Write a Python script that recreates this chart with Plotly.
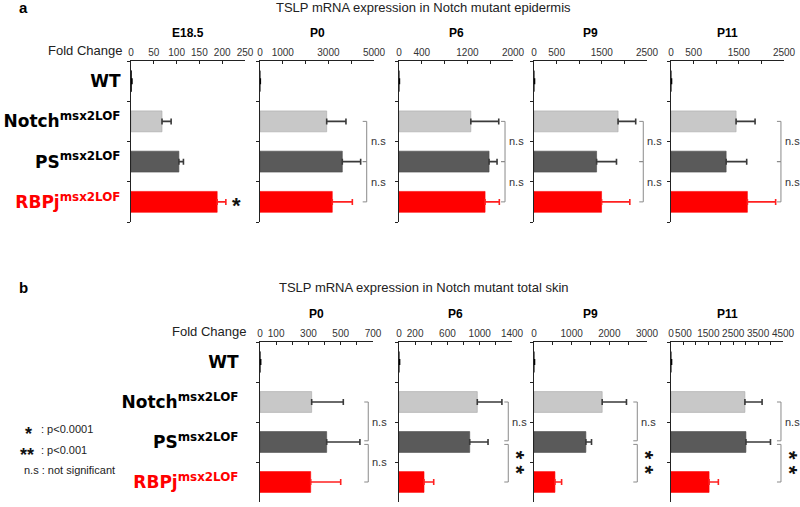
import plotly.graph_objects as go

# ---------------- data ----------------
genotypes = ["WT", "Notch", "PS", "RBPj"]
genotype_ticktext = [
    "WT",
    "Notch<sup>msx2LOF</sup>",
    "PS<sup>msx2LOF</sup>",
    "<span style='color:#ff0000'>RBPj<sup>msx2LOF</sup></span>",
]

# panel a : epidermis
a_stages = ["E18.5", "P0", "P6", "P9", "P11"]
a_wt = [1, 1, 1, 1, 1]
a_wt_err = [1, 12, 6, 10, 10]
a_notch = [68, 2925, 1260, 1860, 1440]
a_notch_err = [20, 845, 490, 390, 420]
a_ps = [105, 3610, 1580, 1385, 1220]
a_ps_err = [10, 805, 140, 440, 455]
a_rbpj = [189, 3170, 1510, 1495, 1690]
a_rbpj_err = [19, 880, 250, 625, 625]
a_axis_max = [250, 5000, 2000, 2500, 2500]
a_tick_step = [50, 1000, 400, 500, 500]
a_tick_labels = [
    ["0", "50", "100", "150", "200", "250"],
    ["0", "1000", "", "3000", "", "5000"],
    ["0", "400", "", "1200", "", "2000"],
    ["0", "500", "", "1500", "", "2500"],
    ["0", "500", "", "1500", "", "2500"],
]
a_sig_notch_ps = ["", "n.s", "n.s", "n.s", "n.s"]
a_sig_ps_rbpj = ["", "n.s", "n.s", "n.s", "n.s"]
a_sig_rbpj_wt = ["*", "", "", "", ""]

# panel b : total skin
b_stages = ["P0", "P6", "P9", "P11"]
b_wt = [1, 1, 1, 1]
b_wt_err = [3, 6, 12, 20]
b_notch = [320, 970, 1810, 2970]
b_notch_err = [196, 305, 645, 690]
b_ps = [413, 876, 1377, 3010]
b_ps_err = [206, 227, 150, 987]
b_rbpj = [314, 310, 556, 1530]
b_rbpj_err = [186, 120, 177, 373]
b_axis_max = [700, 1400, 3000, 4500]
b_tick_step = [100, 200, 500, 500]
b_tick_labels = [
    ["0", "100", "", "300", "", "500", "", "700"],
    ["0", "200", "", "600", "", "1000", "", "1400"],
    ["0", "", "1000", "", "2000", "", "3000"],
    ["0", "500", "", "1500", "", "2500", "", "3500", "", "4500"],
]
b_sig_notch_ps = ["n.s", "n.s", "n.s", "n.s"]
b_sig_ps_rbpj = ["n.s", "**", "**", "**"]

# ---------------- style / layout constants ----------------
W, H = 800, 507
BAR_COLORS = ["#000000", "#c8c8c8", "#5a5a5a", "#ff0000"]
BAR_LINES = ["#000000", "#a8a8a8", "#4a4a4a", "#ff0000"]
ERR_COLORS = ["#000000", "#3a3a3a", "#3a3a3a", "#ff2020"]

a_xpx = [(131, 245), (260, 374), (399, 513), (534, 647), (671, 784)]
b_xpx = [(260, 373), (399, 512), (534, 647), (671, 783)]
a_ypx = (61, 222)
b_ypx = (342, 502)
a_bracket = [None, 0.936, 0.93, 0.967, 0.973]
b_bracket = [0.958, 0.967, 0.914, 0.982]

FONT = "Liberation Sans, Arial, sans-serif"
LABEL_FONT = "DejaVu Sans, Liberation Sans, sans-serif"


def px_x(p):
    return p / W


def px_y(p):
    return 1 - p / H


fig = go.Figure()
layout = dict(
    width=W, height=H,
    margin=dict(l=0, r=0, t=0, b=0, autoexpand=False),
    paper_bgcolor="white", plot_bgcolor="white",
    showlegend=False, barmode="overlay",
    font=dict(family=FONT, size=10, color="#222"),
)
annotations = []
shapes = []

panels = [
    dict(stages=a_stages, series=[(a_wt, a_wt_err), (a_notch, a_notch_err), (a_ps, a_ps_err), (a_rbpj, a_rbpj_err)],
         maxv=a_axis_max, step=a_tick_step, labels=a_tick_labels, xpx=a_xpx, ypx=a_ypx,
         sig1=a_sig_notch_ps, sig2=a_sig_ps_rbpj, bracket=a_bracket, joined=True, standoff=6),
    dict(stages=b_stages, series=[(b_wt, b_wt_err), (b_notch, b_notch_err), (b_ps, b_ps_err), (b_rbpj, b_rbpj_err)],
         maxv=b_axis_max, step=b_tick_step, labels=b_tick_labels, xpx=b_xpx, ypx=b_ypx,
         sig1=b_sig_notch_ps, sig2=b_sig_ps_rbpj, bracket=b_bracket, joined=False, standoff=17),
]

k = 0
for pi, P in enumerate(panels):
    for j, stage in enumerate(P["stages"]):
        k += 1
        xa = "x" if k == 1 else f"x{k}"
        ya = "y" if k == 1 else f"y{k}"
        xkey = "xaxis" if k == 1 else f"xaxis{k}"
        ykey = "yaxis" if k == 1 else f"yaxis{k}"
        for g, (vals, errs) in enumerate(P["series"]):
            fig.add_trace(go.Bar(
                x=[vals[j]], y=[genotypes[g]], orientation="h",
                xaxis=xa, yaxis=ya, width=0.52,
                marker=dict(color=BAR_COLORS[g], line=dict(color=BAR_LINES[g], width=0.6)),
                error_x=dict(type="data", array=[errs[j]], arrayminus=[0], symmetric=False,
                             color=ERR_COLORS[g], thickness=1.6, width=3),
            ))
        mx = P["maxv"][j]
        st = P["step"][j]
        tickvals = [st * i for i in range(int(round(mx / st)) + 1)]
        x0, x1 = P["xpx"][j]
        y0, y1 = P["ypx"]
        layout[xkey] = dict(
            domain=[px_x(x0), px_x(x1)], anchor=ya, side="top",
            range=[0, mx], tickmode="array", tickvals=tickvals, ticktext=P["labels"][j],
            ticks="inside", ticklen=3, tickcolor="#222", tickwidth=1,
            showline=True, linecolor="#222", linewidth=1.2,
            showgrid=False, zeroline=False, automargin=False, tickangle=0,
            tickfont=dict(family=FONT, size=10, color="#333"),
        )
        first = (j == 0)
        layout[ykey] = dict(
            domain=[px_y(y1), px_y(y0)], anchor=xa,
            type="category", categoryorder="array", categoryarray=genotypes,
            range=[3.5, -0.5], tickmode="array", tickvals=genotypes, ticktext=genotype_ticktext,
            ticks="outside", tickson="boundaries", ticklen=3, tickcolor="#222",
            showline=True, linecolor="#222", linewidth=1.2,
            showgrid=False, zeroline=False, automargin=False,
            showticklabels=first, ticklabelstandoff=P["standoff"],
            tickfont=dict(family=LABEL_FONT, size=17, color="#000", weight="bold"),
        )
        # stage title
        annotations.append(dict(
            text=f"<b>{stage}</b>", xref=f"{xa} domain", x=0.5, yref="paper",
            y=px_y(y0 - 28), showarrow=False, yanchor="middle",
            font=dict(family=FONT, size=12, color="#000")))

        # significance brackets
        bf = P["bracket"][j]
        if bf is not None:
            arm = 4 / (x1 - x0)
            if P["joined"]:
                segs = [(1, 2), (2, 3)]
            else:
                segs = [(1, 1.97), (2.06, 3.0)]
            for (s0, s1) in segs:
                line = dict(color="#8a8a8a", width=1)
                shapes.append(dict(type="line", xref=f"{xa} domain", yref=ya, x0=bf, x1=bf, y0=s0, y1=s1, line=line))
                shapes.append(dict(type="line", xref=f"{xa} domain", yref=ya, x0=bf - arm, x1=bf, y0=s0, y1=s0, line=line))
                shapes.append(dict(type="line", xref=f"{xa} domain", yref=ya, x0=bf - arm, x1=bf, y0=s1, y1=s1, line=line))
            for txt, yy in ((P["sig1"][j], 1.5), (P["sig2"][j], 2.5)):
                if txt == "n.s":
                    annotations.append(dict(
                        text="n.s", xref=f"{xa} domain", x=bf, xanchor="left", xshift=2,
                        yref=ya, y=yy, yanchor="middle", showarrow=False,
                        font=dict(family=FONT, size=11, color="#333")))
                elif txt == "**":
                    annotations.append(dict(
                        text="<b>* *</b>", textangle=90, xref=f"{xa} domain", x=bf, xanchor="center", xshift=9,
                        yref=ya, y=yy, yanchor="middle", yshift=-1, showarrow=False,
                        font=dict(family=FONT, size=22, color="#111")))
        if pi == 0 and a_sig_rbpj_wt[j] == "*":
            annotations.append(dict(
                text="<b>*</b>", xref=xa, x=a_rbpj[j] + a_rbpj_err[j], xanchor="left", xshift=4,
                yref=ya, y=3, yanchor="middle", yshift=-4, showarrow=False,
                font=dict(family=FONT, size=22, color="#111")))

# panel letters, titles, "Fold Change" labels
annotations += [
    dict(text="<b>a</b>", x=px_x(17), y=px_y(8), xanchor="left", yanchor="middle",
         font=dict(family=FONT, size=15, color="#000")),
    dict(text="<b>b</b>", x=px_x(17), y=px_y(287), xanchor="left", yanchor="middle",
         font=dict(family=FONT, size=15, color="#000")),
    dict(text="TSLP mRNA expression in Notch mutant epidermis", x=px_x(423), y=px_y(8),
         xanchor="center", yanchor="middle", font=dict(family=FONT, size=13, color="#222")),
    dict(text="TSLP mRNA expression in Notch mutant total skin", x=px_x(424), y=px_y(287),
         xanchor="center", yanchor="middle", font=dict(family=FONT, size=13, color="#222")),
    dict(text="Fold Change", x=px_x(124), y=px_y(50), xanchor="right", yanchor="middle",
         font=dict(family=FONT, size=13, color="#222")),
    dict(text="Fold Change", x=px_x(248), y=px_y(331), xanchor="right", yanchor="middle",
         font=dict(family=FONT, size=13, color="#222")),
    # significance key
    dict(text="<b>*</b>", x=px_x(29), y=px_y(434), xanchor="center", yanchor="middle",
         font=dict(family=FONT, size=18, color="#111")),
    dict(text=": p<0.0001", x=px_x(39), y=px_y(429), xanchor="left", yanchor="middle",
         font=dict(family=FONT, size=11, color="#222")),
    dict(text="<b>**</b>", x=px_x(27), y=px_y(455), xanchor="center", yanchor="middle",
         font=dict(family=FONT, size=18, color="#111")),
    dict(text=": p<0.001", x=px_x(39), y=px_y(450), xanchor="left", yanchor="middle",
         font=dict(family=FONT, size=11, color="#222")),
    dict(text="n.s : not significant", x=px_x(22), y=px_y(470), xanchor="left", yanchor="middle",
         font=dict(family=FONT, size=11, color="#222")),
]
for an in annotations:
    an.setdefault("showarrow", False)
    an.setdefault("xref", "paper")
    an.setdefault("yref", "paper")

layout["annotations"] = annotations
layout["shapes"] = shapes
fig.update_layout(**layout)
fig.write_html(
    "out.html",
    config={"displayModeBar": False},
    post_script="document.body.style.margin='0';document.body.style.padding='0';"
                "document.body.style.overflow='hidden';",
)
